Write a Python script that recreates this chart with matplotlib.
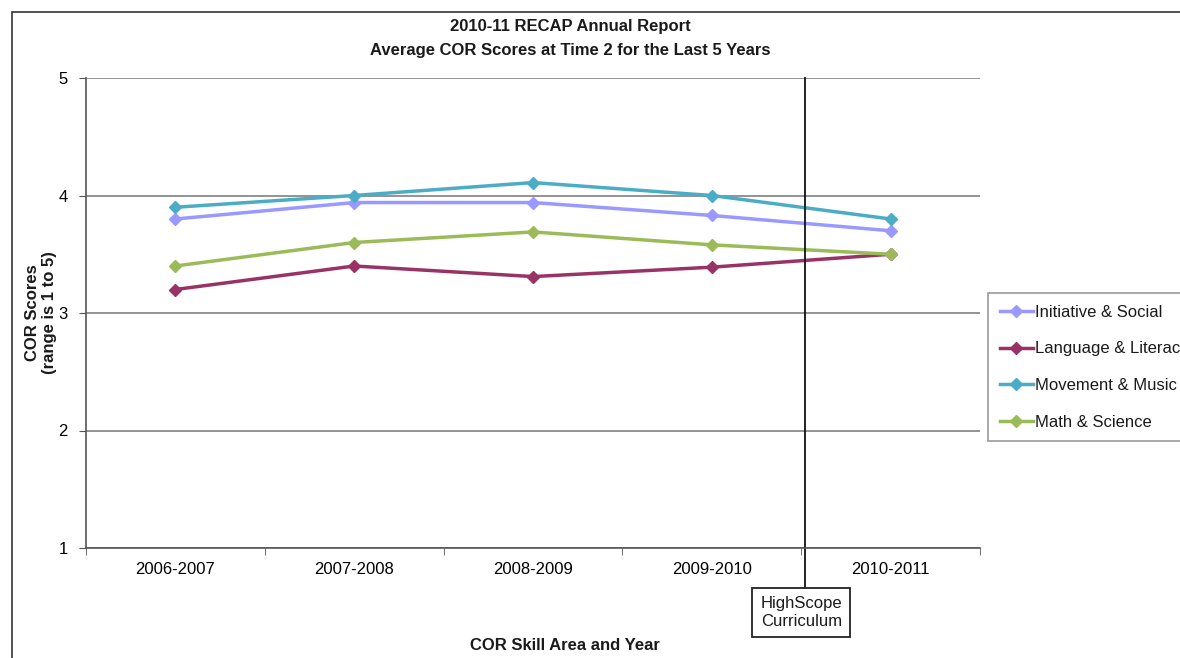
import matplotlib
matplotlib.use("Agg")
import matplotlib.pyplot as plt
from matplotlib.patches import Rectangle

plt.rcParams['font.family'] = ['Liberation Sans', 'DejaVu Sans']
plt.rcParams['font.size'] = 12
plt.rcParams['text.color'] = '#1a1a1a'

# --- datos ---
years = ['2006-2007', '2007-2008', '2008-2009', '2009-2010', '2010-2011']
initiative_social = [3.80, 3.94, 3.94, 3.83, 3.70]
language_literacy = [3.20, 3.40, 3.31, 3.39, 3.50]
movement_music = [3.90, 4.00, 4.11, 4.00, 3.80]
math_science = [3.40, 3.60, 3.69, 3.58, 3.50]

series = [
    ('Initiative & Social', initiative_social, '#9999FF'),
    ('Language & Literacy', language_literacy, '#993366'),
    ('Movement & Music', movement_music, '#4BACC6'),
    ('Math & Science', math_science, '#9BBB59'),
]
highscope_pos = 3.52  # inicio del curriculum HighScope (entre 2009-10 y 2010-11)

fig = plt.figure(figsize=(11.8, 6.58), dpi=100)

# marco exterior del grafico (se corta por la derecha y abajo)
fig.patches.append(Rectangle((12 / 1180, -0.1), 1.2, 1 - 12 / 658 + 0.1,
                             transform=fig.transFigure, fill=False,
                             edgecolor='#333333', linewidth=1.2))

ax = fig.add_axes([86 / 1180, 1 - 548 / 658, 894 / 1180, 470 / 658])
x = list(range(len(years)))

for name, vals, col in series:
    ax.plot(x, vals, color=col, linewidth=2.5, marker='D', markersize=6.5,
            label=name)

ax.set_xlim(-0.5, len(years) - 0.5)
ax.set_ylim(1, 5)
ax.set_yticks([1, 2, 3, 4, 5])
ax.grid(axis='y', color='#808080', linewidth=1.2)
ax.set_axisbelow(True)

ax.set_xticks(x)
ax.set_xticklabels(years)
ax.set_xticks([i - 0.5 for i in range(len(years) + 1)], minor=True)
ax.tick_params(axis='x', which='major', length=0, pad=10)
ax.tick_params(axis='x', which='minor', length=5, color='#555555')
ax.tick_params(axis='y', length=5, color='#555555', pad=8)

for s in ['top', 'right']:
    ax.spines[s].set_visible(False)
for s in ['left', 'bottom']:
    ax.spines[s].set_color('#555555')
    ax.spines[s].set_linewidth(1.2)

# linea vertical + caja HighScope
ax.plot([highscope_pos, highscope_pos], [5, 0.66], color='#111111',
        linewidth=1.3, clip_on=False)
ax.text(highscope_pos - 0.02, 0.45, 'HighScope\nCurriculum', ha='center',
        va='center', fontsize=12, linespacing=1.25,
        bbox=dict(boxstyle='square,pad=0.5', facecolor='white',
                  edgecolor='#222222', linewidth=1.3))

fig.text(570 / 1180, 1 - 26 / 658, '2010-11 RECAP Annual Report', ha='center',
         va='center', fontweight='bold', fontsize=12)
fig.text(570 / 1180, 1 - 50 / 658,
         'Average COR Scores at Time 2 for the Last 5 Years', ha='center',
         va='center', fontweight='bold', fontsize=12)
fig.text(41 / 1180, 1 - 313 / 658, 'COR Scores\n(range is 1 to 5)',
         rotation=90, ha='center', va='center', fontweight='bold',
         fontsize=12)
fig.text(565 / 1180, 1 - 645 / 658, 'COR Skill Area and Year', ha='center',
         va='center', fontweight='bold', fontsize=12)

leg = fig.legend(loc='upper left', bbox_to_anchor=(988 / 1180, 1 - 293 / 658),
                 frameon=True, fancybox=False, edgecolor='#808080',
                 handlelength=2.0, handletextpad=0.1, labelspacing=1.3,
                 borderpad=0.7, borderaxespad=0, fontsize=12)
leg.get_frame().set_linewidth(1.2)

plt.savefig('out.png', dpi=100)
